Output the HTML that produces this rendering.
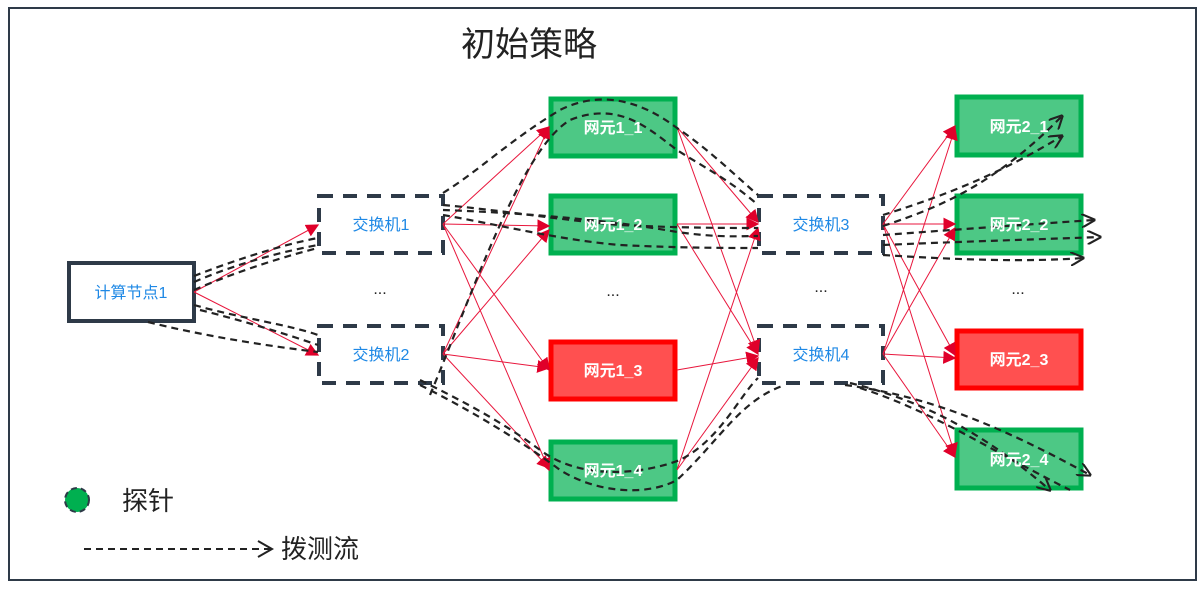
<!DOCTYPE html>
<html><head><meta charset="utf-8"><style>
html,body{margin:0;padding:0;background:#fff;}
svg{display:block;}
text{font-family:"Liberation Sans","Noto Sans CJK SC",sans-serif;}
</style></head><body>
<svg width="1204" height="594" viewBox="0 0 1204 594" xmlns="http://www.w3.org/2000/svg">
<defs>
<marker id="ra" viewBox="0 0 10 10" refX="9" refY="5" markerWidth="13" markerHeight="13" orient="auto" markerUnits="userSpaceOnUse" >
<path d="M0,0 L10,5 L0,10 z" fill="#e0002a"/></marker>
<marker id="oa" viewBox="0 0 10 10" refX="9" refY="5" markerWidth="14" markerHeight="14" orient="auto" markerUnits="userSpaceOnUse">
<path d="M0,0 L10,5 L0,10" fill="none" stroke="#222" stroke-width="1.5"/></marker>
</defs>
<rect x="9" y="8" width="1187" height="572" fill="#fff" stroke="#2e3a48" stroke-width="2"/>
<text x="529" y="56" font-size="34" text-anchor="middle" fill="#222">初始策略</text>

<rect x="69" y="263" width="125" height="58" fill="#fff" stroke="#2e3a48" stroke-width="4"/>
<g fill="#fff" stroke="#2e3a48" stroke-width="4" stroke-dasharray="14,10">
<rect x="319" y="196" width="124" height="57"/>
<rect x="319" y="326" width="124" height="57"/>
<rect x="759" y="196" width="124" height="57"/>
<rect x="759" y="326" width="124" height="57"/>
</g>
<g fill="#4dc885" stroke="#00b050" stroke-width="5">
<rect x="551" y="99" width="124" height="57"/>
<rect x="551" y="196" width="124" height="57"/>
<rect x="551" y="442" width="124" height="57"/>
<rect x="957" y="97" width="124" height="58"/>
<rect x="957" y="196" width="124" height="57"/>
<rect x="957" y="430" width="124" height="58"/>
</g>
<g fill="#ff5050" stroke="#ff0000" stroke-width="5">
<rect x="551" y="342" width="124" height="57"/>
<rect x="957" y="331" width="124" height="57"/>
</g>

<g stroke="#e8163c" stroke-width="1" fill="none" marker-end="url(#ra)">
<line x1="194" y1="292" x2="318" y2="225"/>
<line x1="194" y1="292" x2="318" y2="355"/>
<line x1="443" y1="224" x2="549" y2="127"/>
<line x1="443" y1="224" x2="549" y2="226"/>
<line x1="443" y1="224" x2="549" y2="370"/>
<line x1="443" y1="224" x2="549" y2="470"/>
<line x1="443" y1="354" x2="549" y2="127"/>
<line x1="443" y1="354" x2="549" y2="230"/>
<line x1="443" y1="354" x2="549" y2="368"/>
<line x1="443" y1="354" x2="549" y2="468"/>
<line x1="677" y1="127" x2="758" y2="222"/>
<line x1="677" y1="127" x2="758" y2="352"/>
<line x1="677" y1="224" x2="758" y2="224"/>
<line x1="677" y1="224" x2="758" y2="354"/>
<line x1="677" y1="370" x2="758" y2="356"/>
<line x1="677" y1="470" x2="758" y2="228"/>
<line x1="677" y1="470" x2="758" y2="358"/>
<line x1="883" y1="224" x2="955" y2="126"/>
<line x1="883" y1="224" x2="955" y2="224"/>
<line x1="883" y1="224" x2="955" y2="355"/>
<line x1="883" y1="224" x2="955" y2="455"/>
<line x1="883" y1="354" x2="955" y2="128"/>
<line x1="883" y1="354" x2="955" y2="228"/>
<line x1="883" y1="354" x2="955" y2="358"/>
<line x1="883" y1="354" x2="955" y2="457"/>
</g>

<g stroke="#222" stroke-width="2.2" fill="none" stroke-dasharray="7,5">
<path d="M194,276 C230,262 280,245 318,238"/>
<path d="M194,282 C240,262 290,250 318,245"/>
<path d="M194,290 C240,270 290,255 318,248"/>
<path d="M194,305 C240,318 290,325 318,335"/>
<path d="M148,322 C200,335 260,345 318,352"/>
<path d="M200,310 C240,320 280,332 318,345"/>
<path d="M443,193 C480,170 510,140 560,110 C600,90 640,100 677,128 C710,150 740,180 758,195"/>
<path d="M430,395 C470,300 520,150 570,120 C620,100 650,130 677,150 C700,165 730,180 758,205"/>
<path d="M443,205 C500,210 560,220 620,225 C680,228 730,228 758,228"/>
<path d="M443,215 C500,225 560,240 620,245 C680,248 730,248 758,248"/>
<path d="M443,210 C500,212 600,218 677,232 C720,238 740,236 758,236"/>
<path d="M420,385 C470,410 520,440 560,470 C600,495 650,495 677,480 C720,440 740,400 785,385"/>
<path d="M420,380 C460,400 500,420 540,450 C580,480 640,475 680,460 C720,440 740,395 758,378"/>
<path d="M883,215 C930,200 990,180 1062,136" marker-end="url(#oa)"/>
<path d="M883,226 C930,210 990,190 1062,116" marker-end="url(#oa)"/>
<path d="M883,235 C950,230 1020,225 1094,220" marker-end="url(#oa)"/>
<path d="M883,245 C950,242 1020,240 1100,237" marker-end="url(#oa)"/>
<path d="M883,255 C960,260 1030,262 1083,258" marker-end="url(#oa)"/>
<path d="M845,385 C920,395 990,420 1090,475" marker-end="url(#oa)"/>
<path d="M850,383 C920,400 980,430 1050,490" marker-end="url(#oa)"/>
<path d="M860,388 C930,410 990,450 1070,490"/>
</g>

<g font-size="16" fill="#1e88e5" text-anchor="middle">
<text x="131" y="298">计算节点1</text>
<text x="381" y="230">交换机1</text>
<text x="381" y="360">交换机2</text>
<text x="821" y="230">交换机3</text>
<text x="821" y="360">交换机4</text>
</g>
<g font-size="16" fill="#fff" font-weight="bold" text-anchor="middle">
<text x="613" y="133">网元1_1</text>
<text x="613" y="230">网元1_2</text>
<text x="613" y="376">网元1_3</text>
<text x="613" y="476">网元1_4</text>
<text x="1019" y="132">网元2_1</text>
<text x="1019" y="230">网元2_2</text>
<text x="1019" y="365">网元2_3</text>
<text x="1019" y="465">网元2_4</text>
</g>
<g font-size="16" fill="#222" text-anchor="middle">
<text x="380" y="294">...</text>
<text x="613" y="296">...</text>
<text x="821" y="292">...</text>
<text x="1018" y="294">...</text>
</g>

<circle cx="77" cy="500" r="12" fill="#00b050" stroke="#2e3a48" stroke-width="2" stroke-dasharray="6,4"/>
<text x="122" y="510" font-size="26" fill="#222">探针</text>
<path d="M84,549 L272,549" stroke="#222" stroke-width="2" stroke-dasharray="7,5" fill="none"/>
<path d="M258,541 L272,549 L258,557" stroke="#222" stroke-width="2" fill="none"/>
<text x="281" y="558" font-size="26" fill="#222">拨测流</text>
</svg>
</body></html>
